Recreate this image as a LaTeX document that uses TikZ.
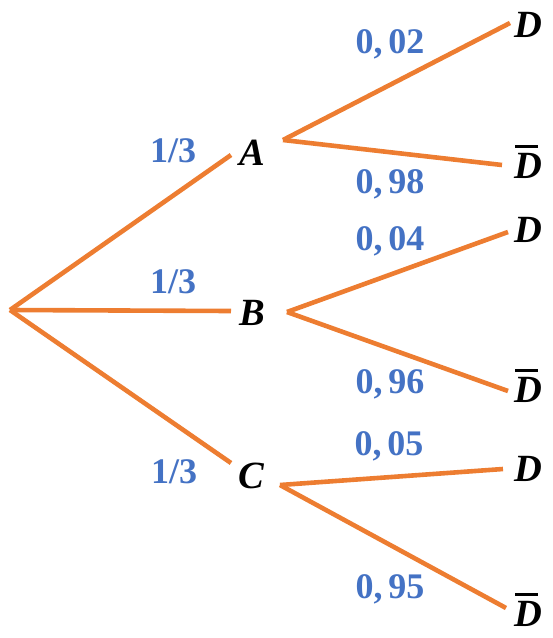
\documentclass[tikz,border=0pt]{standalone}
\usepackage{fontspec}
\setmainfont{Liberation Serif}
\definecolor{branch}{HTML}{ED7D31}
\definecolor{prob}{HTML}{4472C4}
\newcommand{\evD}{\textbf{\textit{D}}}
\newcommand{\evDbar}{\rlap{\hspace{1pt}\rule[30pt]{23pt}{2.8pt}}\textbf{\textit{D}}}
\begin{document}
\begin{tikzpicture}[x=1pt,y=-1pt,
  edge/.style={draw=branch,line width=4.6pt},
  event/.style={anchor=base,inner sep=0pt,font=\fontsize{38.5}{42}\selectfont},
  problabel/.style={anchor=base,inner sep=0pt,text=prob,font=\fontsize{36}{40}\selectfont\bfseries}]
\useasboundingbox (0,0) rectangle (553,638);
% root
\coordinate (root) at (10,310);
% first-level ends
\coordinate (Ain) at (231,155);
\coordinate (Aout) at (283,140);
\coordinate (Bin) at (231,311);
\coordinate (Bout) at (287,312);
\coordinate (Cin) at (231,463);
\coordinate (Cout) at (280,485);
% second-level ends
\coordinate (AD) at (510,23);
\coordinate (ADb) at (502,165);
\coordinate (BD) at (508,232);
\coordinate (BDb) at (508,391);
\coordinate (CD) at (503,469);
\coordinate (CDb) at (506,608);
% event labels
\node[event] (A) at (252,165) {\textbf{\textit{A}}};
\node[event] (B) at (252,325) {\textbf{\textit{B}}};
\node[event] (C) at (252,488) {\textbf{\textit{C}}};
\node[event] (A1) at (528,37) {\evD};
\node[event] (A2) at (528,178) {\evDbar};
\node[event] (B1) at (528,242) {\evD};
\node[event] (B2) at (528,402) {\evDbar};
\node[event] (C1) at (528,481) {\evD};
\node[event] (C2) at (528,626) {\evDbar};
% connectors
\draw[edge] (root) -- (Ain);
\draw[edge] (root) -- (Bin);
\draw[edge] (root) -- (Cin);
\draw[edge] (Aout) -- (AD);
\draw[edge] (Aout) -- (ADb);
\draw[edge] (Bout) -- (BD);
\draw[edge] (Bout) -- (BDb);
\draw[edge] (Cout) -- (CD);
\draw[edge] (Cout) -- (CDb);
% probabilities
\node[problabel] (pA) at (173,162) {1/3};
\node[problabel] (pB) at (173,293) {1/3};
\node[problabel] (pC) at (174,483) {1/3};
\node[problabel] (pAD) at (390,53) {0,\,02};
\node[problabel] (pADb) at (390,193) {0,\,98};
\node[problabel] (pBD) at (390,250) {0,\,04};
\node[problabel] (pBDb) at (390,393) {0,\,96};
\node[problabel] (pCD) at (389,455) {0,\,05};
\node[problabel] (pCDb) at (390,598) {0,\,95};
\end{tikzpicture}
\end{document}
